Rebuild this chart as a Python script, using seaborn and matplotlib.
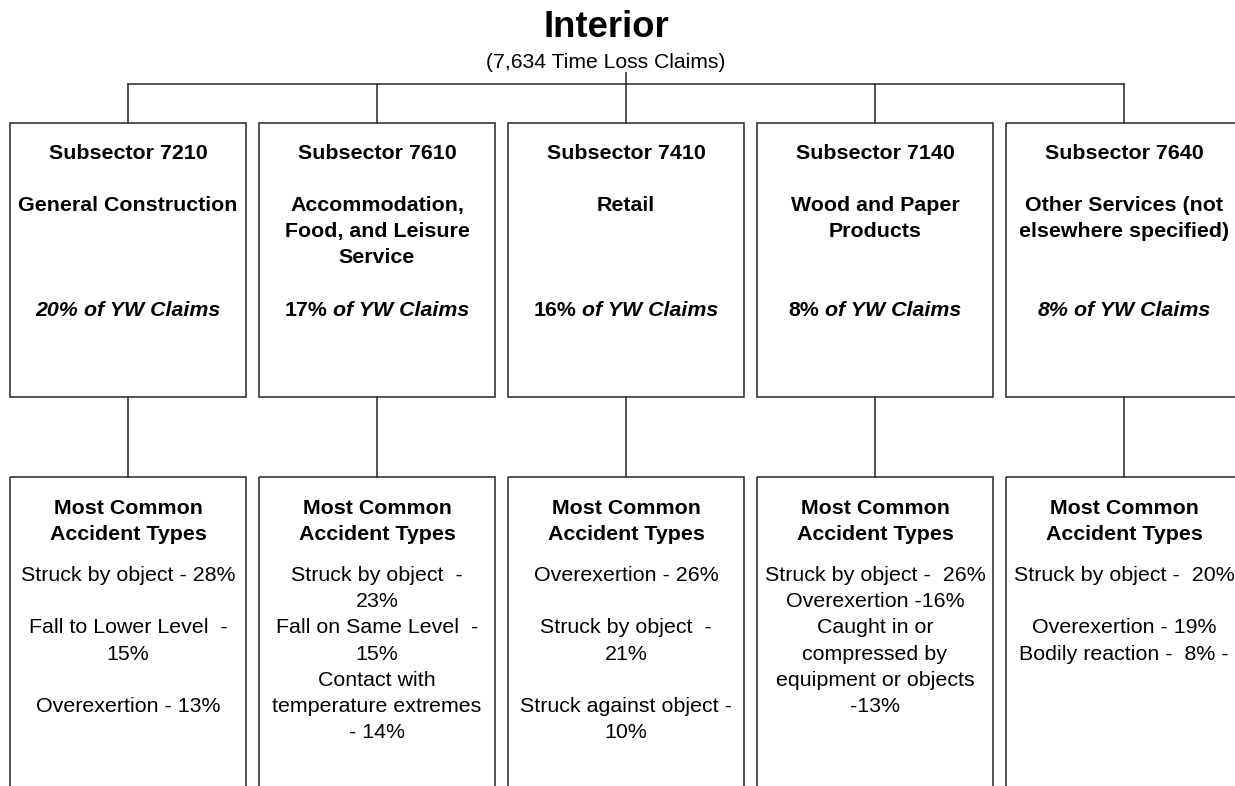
import matplotlib
matplotlib.use("Agg")
import matplotlib.pyplot as plt
from matplotlib.patches import Rectangle
import seaborn as sns

# ---------------- data ----------------
title = "Interior"
subtitle = "(7,634 Time Loss Claims)"
codes = ["7210", "7610", "7410", "7140", "7640"]
names = [
    ["General Construction"],
    ["Accommodation,", "Food, and Leisure", "Service"],
    ["Retail"],
    ["Wood and Paper", "Products"],
    ["Other Services (not", "elsewhere specified)"],
]
shares = [20, 17, 16, 8, 8]
share_italic = [True, False, False, False, True]
acc_header = ["Most Common", "Accident Types"]
acc_lines = [
    ["Struck by object - 28%", "", "Fall to Lower Level  -", "15%", "", "Overexertion - 13%"],
    ["Struck by object  -", "23%", "Fall on Same Level  -", "15%", "Contact with",
     "temperature extremes", "- 14%"],
    ["Overexertion - 26%", "", "Struck by object  -", "21%", "", "Struck against object -", "10%"],
    ["Struck by object -  26%", "Overexertion -16%", "Caught in or", "compressed by",
     "equipment or objects", "-13%"],
    ["Struck by object -  20%", "", "Overexertion - 19%", "Bodily reaction -  8% -"],
]

# ---------------- style ----------------
sns.set_theme(style="white")
plt.rcParams["font.family"] = ["Liberation Sans", "DejaVu Sans"]

W, H = 1235, 786
fig = plt.figure(figsize=(W / 100, H / 100), dpi=100)
ax = fig.add_axes([0, 0, 1, 1])
ax.set_xlim(0, W)
ax.set_ylim(H, 0)
ax.axis("off")

PT = 72 / 100.0
fs_body = 21.4 * PT
fs_title = 36.5 * PT
fs_sub = 21.2 * PT
LC = "#262626"
LW = 1.1
STEP = 26.2

x0, dx = 128, 249
centers = [x0 + i * dx for i in range(len(codes))]
bw = 236
top_y0, top_y1 = 122.7, 397
bot_y0 = 477

# title
ax.text(606, 37, title, ha="center", va="baseline", fontsize=fs_title,
        fontweight="bold", color="black")
ax.text(606, 68, subtitle, ha="center", va="baseline", fontsize=fs_sub, color="black")

# connectors
ax.plot([626, 626], [72, 84], color=LC, lw=LW, solid_capstyle="butt")
ax.plot([centers[0], centers[-1]], [84, 84], color=LC, lw=LW, solid_capstyle="projecting")
renderer = fig.canvas.get_renderer()

for i, cx in enumerate(centers):
    ax.plot([cx, cx], [84, top_y0], color=LC, lw=LW)
    ax.plot([cx, cx], [top_y1, bot_y0], color=LC, lw=LW)
    ax.add_patch(Rectangle((cx - bw / 2, top_y0), bw, top_y1 - top_y0,
                           fill=False, edgecolor=LC, lw=LW))
    ax.add_patch(Rectangle((cx - bw / 2, bot_y0), bw, H + 20 - bot_y0,
                           fill=False, edgecolor=LC, lw=LW))

    # top box text
    ax.text(cx, 159, f"Subsector {codes[i]}", ha="center", va="baseline",
            fontsize=fs_body, fontweight="bold", color="black")
    for k, line in enumerate(names[i]):
        ax.text(cx, 211 + k * STEP, line, ha="center", va="baseline",
                fontsize=fs_body, fontweight="bold", color="black")
    t1 = ax.text(0, 316, f"{shares[i]}%", ha="left", va="baseline", fontsize=fs_body,
                 fontweight="bold", fontstyle="italic" if share_italic[i] else "normal",
                 color="black")
    t2 = ax.text(0, 316, "of YW Claims", ha="left", va="baseline", fontsize=fs_body,
                 fontweight="bold", fontstyle="italic", color="black")
    w1 = t1.get_window_extent(renderer).width
    w2 = t2.get_window_extent(renderer).width
    gap = 0.278 * 21.4
    total = w1 + gap + w2
    t1.set_x(cx - total / 2)
    t2.set_x(cx - total / 2 + w1 + gap)

    # bottom box text
    for k, line in enumerate(acc_header):
        ax.text(cx, 514 + k * STEP, line, ha="center", va="baseline",
                fontsize=fs_body, fontweight="bold", color="black")
    for k, line in enumerate(acc_lines[i]):
        if line:
            ax.text(cx, 581 + k * STEP, line, ha="center", va="baseline",
                    fontsize=fs_body, color="black")

fig.savefig("out.png", dpi=100, facecolor="white")
